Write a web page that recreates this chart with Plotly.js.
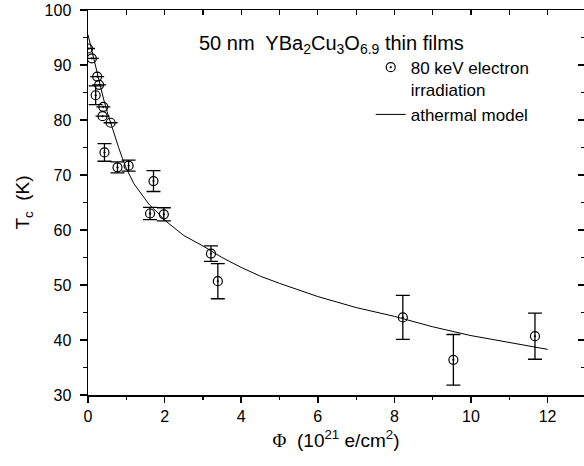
<!DOCTYPE html>
<html>
<head>
<meta charset="utf-8">
<script src="https://cdn.plot.ly/plotly-3.0.1.min.js"></script>
<style>html,body{margin:0;padding:0;background:#fff;}#chart{width:584px;height:466px;}</style>
</head>
<body>
<div id="chart"></div>
<script>
// Measured data: fluence (10^21 e/cm^2), Tc (K), error (K)
const phi   = [0.00, 0.10, 0.24, 0.29, 0.20, 0.40, 0.38, 0.59, 0.43, 0.77, 1.06, 1.71, 1.62, 1.98, 3.21, 3.39, 8.22, 9.54, 11.67];
const tc    = [93.0, 91.2, 87.9, 86.4, 84.5, 82.4, 80.7, 79.5, 74.1, 71.4, 71.7, 68.9, 63.0, 62.85, 55.7, 50.7, 44.1, 36.4, 40.7];
const tcErr = [0, 0, 0, 0, 1.7, 0, 0, 0, 1.6, 1.0, 1.0, 1.9, 1.1, 1.2, 1.4, 3.2, 4.0, 4.6, 4.2];

// Athermal model curve
const modelPhi = [0, 0.05, 0.1, 0.2, 0.3, 0.4, 0.5, 0.6, 0.7, 0.8, 0.9, 1.0, 1.2, 1.4, 1.6, 1.8, 2.0, 2.5, 3.0, 3.5, 4.0, 4.5, 5.0, 6.0, 7.0, 8.0, 9.0, 10.0, 11.0, 12.0];
const modelTc  = [95.5, 94.0, 92.4, 89.4, 86.6, 84.0, 81.5, 79.2, 77.0, 75.0, 73.0, 71.2, 68.4, 66.4, 64.6, 63.3, 61.8, 59.0, 57.1, 55.0, 53.2, 51.6, 50.3, 47.9, 45.9, 44.3, 42.4, 40.8, 39.5, 38.3];

const xRange = [0, 12.95];
const yRange = [30, 100];

const FONT = 'Liberation Sans, Arial, sans-serif';

const traces = [
  {
    x: phi, y: tc, type: 'scatter', mode: 'markers',
    name: '80 keV electron<br>irradiation',
    marker: {symbol: 'circle-open-dot', size: 9, color: '#000', line: {width: 1.2, color: '#000'}},
    error_y: {type: 'data', array: tcErr, visible: true, color: '#000', thickness: 1.3, width: 7},
    hoverinfo: 'x+y'
  },
  {
    x: modelPhi, y: modelTc, type: 'scatter', mode: 'lines',
    name: 'athermal model',
    line: {color: '#000', width: 1}
  },
  {
    x: phi, y: tc, type: 'scatter', mode: 'markers', xaxis: 'x2', yaxis: 'y2',
    marker: {opacity: 0}, showlegend: false, hoverinfo: 'skip'
  }
];

const layout = {
  width: 584, height: 466,
  margin: {l: 88, r: 0, t: 10, b: 71},
  paper_bgcolor: '#fff', plot_bgcolor: '#fff',
  font: {family: FONT, color: '#000', size: 16},
  showlegend: true,
  legend: {
    x: 0.57, y: 0.897, xanchor: 'left', yanchor: 'top',
    bgcolor: 'rgba(0,0,0,0)', borderwidth: 0,
    font: {family: FONT, size: 17, color: '#000'},
    itemwidth: 30, valign: 'top', tracegroupgap: 0
  },
  xaxis: {
    range: xRange, dtick: 2, tick0: 0,
    ticks: 'outside', ticklen: 6, tickwidth: 1.5, tickcolor: '#000',
    minor: {dtick: 1, ticks: 'outside', ticklen: 3, tickwidth: 1.2, tickcolor: '#000'},
    showline: true, linewidth: 1.5, linecolor: '#000',
    showgrid: false, zeroline: false,
    tickfont: {family: FONT, size: 16},
    title: {text: '<span style="font-family:Liberation Serif">Φ</span>  (10<sup>21</sup> e/cm<sup>2</sup>)', font: {family: FONT, size: 19}, standoff: 10}
  },
  yaxis: {
    range: yRange, dtick: 10, tick0: 0,
    ticks: 'outside', ticklen: 7, tickwidth: 1.5, tickcolor: '#000',
    minor: {dtick: 5, ticks: 'outside', ticklen: 4, tickwidth: 1.2, tickcolor: '#000'},
    showline: true, linewidth: 1.5, linecolor: '#000',
    showgrid: false, zeroline: false,
    ticklabelstandoff: 5,
    tickfont: {family: FONT, size: 16},
    title: {text: 'T<sub>c</sub>  (K)', font: {family: FONT, size: 19}, standoff: 10}
  },
  xaxis2: {
    overlaying: 'x', side: 'top', range: xRange, dtick: 1, tick0: 0,
    ticks: 'inside', ticklen: 5, tickwidth: 1.2, tickcolor: '#000',
    showline: true, linewidth: 1.5, linecolor: '#000',
    showticklabels: false, showgrid: false, zeroline: false
  },
  yaxis2: {
    overlaying: 'y', side: 'right', range: yRange, dtick: 10, tick0: 0,
    ticks: 'inside', ticklen: 6, tickwidth: 1.2, tickcolor: '#000',
    minor: {dtick: 5, ticks: 'inside', ticklen: 3, tickwidth: 1.2, tickcolor: '#000'},
    showline: false, showticklabels: false, showgrid: false, zeroline: false
  },
  annotations: [
    {
      xref: 'paper', yref: 'paper', x: 0.49, y: 0.91, xanchor: 'center', yanchor: 'middle',
      text: '50 nm  YBa<sub>2</sub>Cu<sub>3</sub>O<sub>6.9</sub> thin films',
      showarrow: false, font: {family: FONT, size: 20, color: '#000'}
    }
  ]
};

Plotly.newPlot('chart', traces, layout, {displayModeBar: false, staticPlot: true});
</script>
</body>
</html>
